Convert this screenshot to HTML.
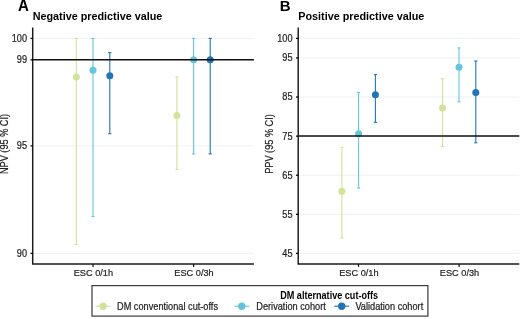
<!DOCTYPE html>
<html><head><meta charset="utf-8"><style>
html,body{margin:0;padding:0;background:#fff;}
body{width:520px;height:319px;overflow:hidden;}
svg{display:block;will-change:transform;}
text{font-family:"Liberation Sans",sans-serif;fill:#222;}
.tk{font-size:9.2px;fill:#1e1e1e;stroke:#1e1e1e;stroke-width:0.2px;}
.ti{font-size:10.8px;font-weight:bold;fill:#000;}
.lab{font-size:15px;font-weight:bold;fill:#000;}
.lt{font-size:9.1px;font-weight:bold;fill:#000;}
.lg{font-size:9.2px;fill:#1e1e1e;stroke:#1e1e1e;stroke-width:0.2px;}
</style></head><body>
<svg width="520" height="319" viewBox="0 0 520 319">
<rect width="520" height="319" fill="#fff"/>
<line x1="32.7" x2="253.9" y1="38.4" y2="38.4" stroke="#eaeced" stroke-width="0.8"/>
<line x1="32.7" x2="253.9" y1="59.9" y2="59.9" stroke="#eaeced" stroke-width="0.8"/>
<line x1="32.7" x2="253.9" y1="145.9" y2="145.9" stroke="#eaeced" stroke-width="0.8"/>
<line x1="32.7" x2="253.9" y1="253.4" y2="253.4" stroke="#eaeced" stroke-width="0.8"/>
<line x1="76.3" x2="76.3" y1="38.4" y2="244.4" stroke="#d1e29b" stroke-width="1.1"/>
<line x1="74.7" x2="77.89999999999999" y1="38.4" y2="38.4" stroke="#d1e29b" stroke-width="1.1"/>
<line x1="74.7" x2="77.89999999999999" y1="244.4" y2="244.4" stroke="#d1e29b" stroke-width="1.1"/>
<line x1="93.0" x2="93.0" y1="38.4" y2="216.5" stroke="#64c6db" stroke-width="1.1"/>
<line x1="91.4" x2="94.6" y1="38.4" y2="38.4" stroke="#64c6db" stroke-width="1.1"/>
<line x1="91.4" x2="94.6" y1="216.5" y2="216.5" stroke="#64c6db" stroke-width="1.1"/>
<line x1="109.8" x2="109.8" y1="52.6" y2="133.7" stroke="#1f75b8" stroke-width="1.1"/>
<line x1="108.2" x2="111.39999999999999" y1="52.6" y2="52.6" stroke="#1f75b8" stroke-width="1.1"/>
<line x1="108.2" x2="111.39999999999999" y1="133.7" y2="133.7" stroke="#1f75b8" stroke-width="1.1"/>
<line x1="176.9" x2="176.9" y1="76.9" y2="169.5" stroke="#d1e29b" stroke-width="1.1"/>
<line x1="175.3" x2="178.5" y1="76.9" y2="76.9" stroke="#d1e29b" stroke-width="1.1"/>
<line x1="175.3" x2="178.5" y1="169.5" y2="169.5" stroke="#d1e29b" stroke-width="1.1"/>
<line x1="193.6" x2="193.6" y1="38.4" y2="153.9" stroke="#64c6db" stroke-width="1.1"/>
<line x1="192.0" x2="195.2" y1="38.4" y2="38.4" stroke="#64c6db" stroke-width="1.1"/>
<line x1="192.0" x2="195.2" y1="153.9" y2="153.9" stroke="#64c6db" stroke-width="1.1"/>
<line x1="210.2" x2="210.2" y1="38.4" y2="153.9" stroke="#1f75b8" stroke-width="1.1"/>
<line x1="208.6" x2="211.79999999999998" y1="38.4" y2="38.4" stroke="#1f75b8" stroke-width="1.1"/>
<line x1="208.6" x2="211.79999999999998" y1="153.9" y2="153.9" stroke="#1f75b8" stroke-width="1.1"/>
<circle cx="76.3" cy="76.9" r="3.5" fill="#d1e29b"/>
<circle cx="93.0" cy="70.2" r="3.5" fill="#64c6db"/>
<circle cx="109.8" cy="75.7" r="3.5" fill="#1f75b8"/>
<circle cx="176.9" cy="115.5" r="3.5" fill="#d1e29b"/>
<circle cx="193.6" cy="59.7" r="3.5" fill="#64c6db"/>
<circle cx="210.2" cy="59.7" r="3.5" fill="#1f75b8"/>
<line x1="32.7" x2="253.9" y1="59.65" y2="59.65" stroke="#111" stroke-width="1.5"/>
<path d="M32.7 27.5 V263.9 H253.9" fill="none" stroke="#1a1a1a" stroke-width="1.45"/>
<line x1="30.500000000000004" x2="32.7" y1="38.4" y2="38.4" stroke="#000" stroke-width="1.25"/>
<text transform="translate(27.1,41.85) scale(1,1.09)" text-anchor="end" class="tk">100</text>
<line x1="30.500000000000004" x2="32.7" y1="59.9" y2="59.9" stroke="#000" stroke-width="1.25"/>
<text transform="translate(27.1,63.35) scale(1,1.09)" text-anchor="end" class="tk">99</text>
<line x1="30.500000000000004" x2="32.7" y1="145.9" y2="145.9" stroke="#000" stroke-width="1.25"/>
<text transform="translate(27.1,149.35) scale(1,1.09)" text-anchor="end" class="tk">95</text>
<line x1="30.500000000000004" x2="32.7" y1="253.4" y2="253.4" stroke="#000" stroke-width="1.25"/>
<text transform="translate(27.1,256.85) scale(1,1.09)" text-anchor="end" class="tk">90</text>
<line x1="93.0" x2="93.0" y1="263.9" y2="266.9" stroke="#111" stroke-width="1.2"/>
<text transform="translate(93.4,276.1) scale(1,1.07)" text-anchor="middle" class="tk">ESC 0/1h</text>
<line x1="193.60000000000002" x2="193.60000000000002" y1="263.9" y2="266.9" stroke="#111" stroke-width="1.2"/>
<text transform="translate(194.00000000000003,276.1) scale(1,1.07)" text-anchor="middle" class="tk">ESC 0/3h</text>
<text transform="translate(7.6,144.0) rotate(-90) scale(1,1.1)" text-anchor="middle" class="tk">NPV (95 % CI)</text>
<text x="32.7" y="19.6" class="ti">Negative predictive value</text>
<text transform="translate(18.0,10.8) scale(1,1.05)" text-anchor="start" class="lab">A</text>
<line x1="298.2" x2="519.3" y1="38.4" y2="38.4" stroke="#eaeced" stroke-width="0.8"/>
<line x1="298.2" x2="519.3" y1="57.94499999999999" y2="57.94499999999999" stroke="#eaeced" stroke-width="0.8"/>
<line x1="298.2" x2="519.3" y1="97.035" y2="97.035" stroke="#eaeced" stroke-width="0.8"/>
<line x1="298.2" x2="519.3" y1="136.125" y2="136.125" stroke="#eaeced" stroke-width="0.8"/>
<line x1="298.2" x2="519.3" y1="175.215" y2="175.215" stroke="#eaeced" stroke-width="0.8"/>
<line x1="298.2" x2="519.3" y1="214.305" y2="214.305" stroke="#eaeced" stroke-width="0.8"/>
<line x1="298.2" x2="519.3" y1="253.39499999999998" y2="253.39499999999998" stroke="#eaeced" stroke-width="0.8"/>
<line x1="341.9" x2="341.9" y1="147.4" y2="238.1" stroke="#d1e29b" stroke-width="1.1"/>
<line x1="340.29999999999995" x2="343.5" y1="147.4" y2="147.4" stroke="#d1e29b" stroke-width="1.1"/>
<line x1="340.29999999999995" x2="343.5" y1="238.1" y2="238.1" stroke="#d1e29b" stroke-width="1.1"/>
<line x1="358.6" x2="358.6" y1="92.5" y2="188.0" stroke="#64c6db" stroke-width="1.1"/>
<line x1="357.0" x2="360.20000000000005" y1="92.5" y2="92.5" stroke="#64c6db" stroke-width="1.1"/>
<line x1="357.0" x2="360.20000000000005" y1="188.0" y2="188.0" stroke="#64c6db" stroke-width="1.1"/>
<line x1="375.4" x2="375.4" y1="74.6" y2="122.3" stroke="#1f75b8" stroke-width="1.1"/>
<line x1="373.79999999999995" x2="377.0" y1="74.6" y2="74.6" stroke="#1f75b8" stroke-width="1.1"/>
<line x1="373.79999999999995" x2="377.0" y1="122.3" y2="122.3" stroke="#1f75b8" stroke-width="1.1"/>
<line x1="442.5" x2="442.5" y1="78.6" y2="146.5" stroke="#d1e29b" stroke-width="1.1"/>
<line x1="440.9" x2="444.1" y1="78.6" y2="78.6" stroke="#d1e29b" stroke-width="1.1"/>
<line x1="440.9" x2="444.1" y1="146.5" y2="146.5" stroke="#d1e29b" stroke-width="1.1"/>
<line x1="459.0" x2="459.0" y1="47.9" y2="101.8" stroke="#64c6db" stroke-width="1.1"/>
<line x1="457.4" x2="460.6" y1="47.9" y2="47.9" stroke="#64c6db" stroke-width="1.1"/>
<line x1="457.4" x2="460.6" y1="101.8" y2="101.8" stroke="#64c6db" stroke-width="1.1"/>
<line x1="475.8" x2="475.8" y1="61.0" y2="142.8" stroke="#1f75b8" stroke-width="1.1"/>
<line x1="474.2" x2="477.40000000000003" y1="61.0" y2="61.0" stroke="#1f75b8" stroke-width="1.1"/>
<line x1="474.2" x2="477.40000000000003" y1="142.8" y2="142.8" stroke="#1f75b8" stroke-width="1.1"/>
<circle cx="341.9" cy="191.2" r="3.5" fill="#d1e29b"/>
<circle cx="358.6" cy="133.7" r="3.5" fill="#64c6db"/>
<circle cx="375.4" cy="94.8" r="3.5" fill="#1f75b8"/>
<circle cx="442.5" cy="108.1" r="3.5" fill="#d1e29b"/>
<circle cx="459.0" cy="67.2" r="3.5" fill="#64c6db"/>
<circle cx="475.8" cy="92.6" r="3.5" fill="#1f75b8"/>
<line x1="298.2" x2="519.3" y1="135.9" y2="135.9" stroke="#111" stroke-width="1.5"/>
<path d="M298.2 27.5 V263.9 H519.3" fill="none" stroke="#1a1a1a" stroke-width="1.45"/>
<line x1="296.0" x2="298.2" y1="38.4" y2="38.4" stroke="#000" stroke-width="1.25"/>
<text transform="translate(292.59999999999997,41.85) scale(1,1.09)" text-anchor="end" class="tk">100</text>
<line x1="296.0" x2="298.2" y1="57.94499999999999" y2="57.94499999999999" stroke="#000" stroke-width="1.25"/>
<text transform="translate(292.59999999999997,61.394999999999996) scale(1,1.09)" text-anchor="end" class="tk">95</text>
<line x1="296.0" x2="298.2" y1="97.035" y2="97.035" stroke="#000" stroke-width="1.25"/>
<text transform="translate(292.59999999999997,100.485) scale(1,1.09)" text-anchor="end" class="tk">85</text>
<line x1="296.0" x2="298.2" y1="136.125" y2="136.125" stroke="#000" stroke-width="1.25"/>
<text transform="translate(292.59999999999997,139.575) scale(1,1.09)" text-anchor="end" class="tk">75</text>
<line x1="296.0" x2="298.2" y1="175.215" y2="175.215" stroke="#000" stroke-width="1.25"/>
<text transform="translate(292.59999999999997,178.665) scale(1,1.09)" text-anchor="end" class="tk">65</text>
<line x1="296.0" x2="298.2" y1="214.305" y2="214.305" stroke="#000" stroke-width="1.25"/>
<text transform="translate(292.59999999999997,217.755) scale(1,1.09)" text-anchor="end" class="tk">55</text>
<line x1="296.0" x2="298.2" y1="253.39499999999998" y2="253.39499999999998" stroke="#000" stroke-width="1.25"/>
<text transform="translate(292.59999999999997,256.84499999999997) scale(1,1.09)" text-anchor="end" class="tk">45</text>
<line x1="358.5" x2="358.5" y1="263.9" y2="266.9" stroke="#111" stroke-width="1.2"/>
<text transform="translate(358.9,276.1) scale(1,1.07)" text-anchor="middle" class="tk">ESC 0/1h</text>
<line x1="459.1" x2="459.1" y1="263.9" y2="266.9" stroke="#111" stroke-width="1.2"/>
<text transform="translate(459.5,276.1) scale(1,1.07)" text-anchor="middle" class="tk">ESC 0/3h</text>
<text transform="translate(273.1,144.0) rotate(-90) scale(1,1.1)" text-anchor="middle" class="tk">PPV (95 % CI)</text>
<text x="298.3" y="19.6" class="ti">Positive predictive value</text>
<text transform="translate(279.8,11.3) scale(1,1.0)" text-anchor="start" class="lab">B</text>
<rect x="92.0" y="285.6" width="335.9" height="30.5" fill="none" stroke="#3a3a3a" stroke-width="1.2"/>
<text transform="translate(280.2,299.1) scale(1,1.13)" text-anchor="start" class="lt">DM alternative cut-offs</text>
<line x1="95.6" x2="110.6" y1="306.2" y2="306.2" stroke="#d1e29b" stroke-width="1.1"/>
<circle cx="103.1" cy="306.2" r="3.7" fill="#d1e29b"/>
<text transform="translate(117.0,309.6) scale(1,1.14)" text-anchor="start" class="lg">DM conventional cut-offs</text>
<line x1="234.3" x2="249.3" y1="306.2" y2="306.2" stroke="#64c6db" stroke-width="1.1"/>
<circle cx="241.8" cy="306.2" r="3.7" fill="#64c6db"/>
<text transform="translate(256.3,309.6) scale(1,1.14)" text-anchor="start" class="lg">Derivation cohort</text>
<line x1="334.2" x2="349.2" y1="306.2" y2="306.2" stroke="#1f75b8" stroke-width="1.1"/>
<circle cx="341.7" cy="306.2" r="3.7" fill="#1f75b8"/>
<text transform="translate(355.4,309.6) scale(1,1.14)" text-anchor="start" class="lg">Validation cohort</text>
</svg>
</body></html>
